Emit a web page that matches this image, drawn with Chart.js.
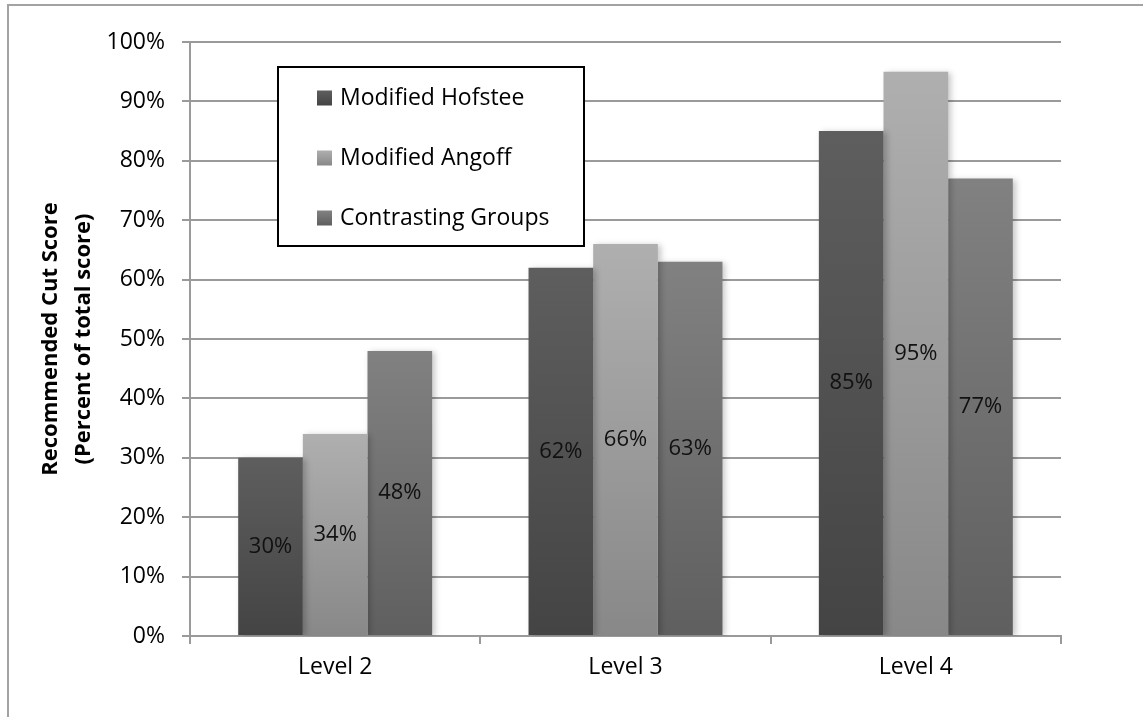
<!DOCTYPE html>
<html>
<head>
<meta charset="utf-8">
<script src="https://cdn.jsdelivr.net/npm/chart.js@4.4.1/dist/chart.umd.min.js"></script>
<style>
  html, body { margin: 0; padding: 0; background: #fff; }
  #wrap { position: relative; width: 1143px; height: 717px; overflow: hidden; }
  #frame { position: absolute; left: 7px; top: 4px; width: 1400px; height: 1000px;
           border: 2px solid #a3a3a3; box-sizing: border-box; }
  #c { position: absolute; left: 0; top: 0; }
</style>
</head>
<body>
<div id="wrap">
  <div id="frame"></div>
  <canvas id="c" width="1143" height="717"></canvas>
</div>
<script>
// Categories and series
const levels = ['Level 2', 'Level 3', 'Level 4'];
const seriesNames = ['Modified Hofstee', 'Modified Angoff', 'Contrasting Groups'];
const hofstee = [30, 62, 85];
const angoff = [34, 66, 95];
const contrasting = [48, 63, 77];
const yTickValues = [0, 10, 20, 30, 40, 50, 60, 70, 80, 90, 100];
const yTitle = ['Recommended Cut Score', '(Percent of total score)'];

const FONT = '"Open Sans", "Noto Sans", sans-serif';
const GRID = '#9a9a9a';

// light top -> dark bottom shading for each series
const shades = [
  ['#5e5e5e', '#444444'],
  ['#afafaf', '#888888'],
  ['#818181', '#5f5f5f']
];

function barFill(idx) {
  const [top, bottom] = shades[idx];
  return (ctx) => {
    const chart = ctx.chart;
    const ys = chart.scales && chart.scales.y;
    if (!chart.chartArea || !ys || ctx.type !== 'data') return bottom;
    const yTop = ys.getPixelForValue(ctx.raw);
    const yBase = ys.getPixelForValue(0);
    const g = chart.ctx.createLinearGradient(0, yTop, 0, yBase);
    g.addColorStop(0, top);
    g.addColorStop(1, bottom);
    return g;
  };
}

// soft shadow behind the bars
const barShadow = {
  id: 'barShadow',
  beforeDatasetsDraw(chart) {
    const c = chart.ctx;
    c.save();
    c.shadowColor = 'rgba(0,0,0,0.22)';
    c.shadowBlur = 6;
    c.shadowOffsetX = 3;
    c.shadowOffsetY = 1;
  },
  afterDatasetsDraw(chart) {
    chart.ctx.restore();
  }
};

// value labels centred inside each bar
const valueLabels = {
  id: 'valueLabels',
  afterDatasetsDraw(chart) {
    const c = chart.ctx;
    c.save();
    c.font = '22px ' + FONT;
    c.fillStyle = '#111';
    c.textAlign = 'center';
    c.textBaseline = 'middle';
    chart.data.datasets.forEach((ds, di) => {
      const meta = chart.getDatasetMeta(di);
      meta.data.forEach((bar, i) => {
        const v = ds.data[i];
        c.fillText(v + '%', bar.x, (bar.y + bar.base) / 2);
      });
    });
    c.restore();
  }
};

// boxed legend floating over the plot
const boxLegend = {
  id: 'boxLegend',
  afterDraw(chart) {
    const a = chart.chartArea;
    const c = chart.ctx;
    const x = a.left + 88, y = a.top + 25, w = 306, h = 179;
    c.save();
    c.fillStyle = '#fff';
    c.fillRect(x, y, w, h);
    c.strokeStyle = '#000';
    c.lineWidth = 2;
    c.strokeRect(x, y, w, h);
    c.font = '23px ' + FONT;
    c.textAlign = 'left';
    c.textBaseline = 'middle';
    chart.data.datasets.forEach((ds, i) => {
      const cy = y + 31 + i * 60;
      const sx = x + 39, sz = 15;
      const g = c.createLinearGradient(0, cy - sz / 2, 0, cy + sz / 2);
      g.addColorStop(0, shades[i][0]);
      g.addColorStop(1, shades[i][1]);
      c.fillStyle = g;
      c.fillRect(sx, cy - sz / 2, sz, sz);
      c.fillStyle = '#000';
      c.fillText(ds.label, sx + 23, cy);
    });
    c.restore();
  }
};

const seriesData = [hofstee, angoff, contrasting];

new Chart(document.getElementById('c'), {
  type: 'bar',
  data: {
    labels: levels,
    datasets: seriesNames.map((name, i) => ({
      label: name,
      data: seriesData[i],
      backgroundColor: barFill(i),
      borderWidth: 0,
      barPercentage: 1.0,
      categoryPercentage: 0.668
    }))
  },
  options: {
    responsive: false,
    animation: false,
    devicePixelRatio: 1,
    layout: { padding: { left: 0, top: 42, right: 82, bottom: 0 } },
    plugins: {
      legend: { display: false },
      tooltip: { enabled: false },
      title: { display: false }
    },
    scales: {
      x: {
        grid: { offset: true, drawOnChartArea: false, drawTicks: true, tickLength: 8, color: GRID, lineWidth: 2 },
        border: { display: true, color: GRID, width: 2 },
        ticks: { font: { family: FONT, size: 23 }, color: '#000', padding: 10 },
        afterFit(scale) { scale.height = 81; }
      },
      y: {
        min: 0,
        max: 100,
        afterBuildTicks(scale) { scale.ticks = yTickValues.map(v => ({ value: v })); },
        grid: { color: GRID, lineWidth: 2, drawTicks: true, tickLength: 8 },
        border: { display: true, color: GRID, width: 2 },
        ticks: { font: { family: FONT, size: 23 }, color: '#000', padding: 17, callback: v => v + '%' },
        title: {
          display: true,
          text: yTitle,
          font: { family: FONT, size: 22, weight: 'bold', lineHeight: 1.5 },
          color: '#000',
          padding: { top: 34, bottom: 0 }
        },
        afterFit(scale) { scale.width = 190; }
      }
    }
  },
  plugins: [barShadow, valueLabels, boxLegend]
});
</script>
</body>
</html>
